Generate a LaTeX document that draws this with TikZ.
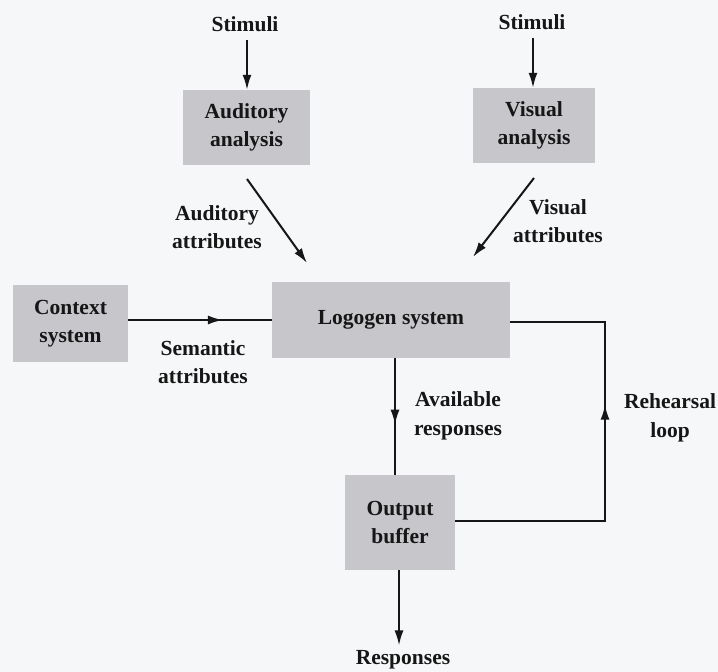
\documentclass[tikz,border=0pt]{standalone}
\usepackage{fontspec}
\setmainfont{Liberation Serif}
\usetikzlibrary{arrows.meta,decorations.markings}

\definecolor{paper}{RGB}{245,247,248}
\definecolor{boxgray}{RGB}{198,198,203}
\definecolor{ink}{RGB}{22,22,22}

\newcommand{\lblfont}{\bfseries\fontsize{21.5}{28.5}\selectfont}

\tikzset{
  tip/.style={-{Latex[length=15pt,width=9pt]}},
  wire/.style={draw=ink, line width=2pt},
  procbox/.style={fill=boxgray, text=ink, align=center, inner sep=0pt, font=\lblfont},
  lbl/.style={text=ink, align=center, inner sep=1pt, font=\lblfont},
  midtip/.style={postaction={decorate}, decoration={markings,
      mark=at position #1 with {\arrow{Latex[length=15pt,width=9pt]}}}},
}

\begin{document}
\begin{tikzpicture}[x=1pt,y=-1pt]
\useasboundingbox (0,0) rectangle (718,672);
\fill[paper] (0,0) rectangle (718,672);

% inputs
\node[lbl] (stimA) at (245,24) {Stimuli};
\node[lbl] (stimV) at (532,22) {Stimuli};

% processing boxes
\node[procbox, minimum width=127pt, minimum height=75pt] (audA) at (246.5,127.5) {Auditory\\analysis};
\node[procbox, minimum width=122pt, minimum height=75pt] (visA) at (534,125.5) {Visual\\analysis};
\node[procbox, minimum width=115pt, minimum height=77pt] (ctx) at (70.5,323.5) {Context\\system};
\node[procbox, minimum width=238pt, minimum height=76pt] (logo) at (391,320) {Logogen system};
\node[procbox, minimum width=110pt, minimum height=95pt] (out) at (400,522.5) {Output\\buffer};

% output
\node[lbl] (resp) at (403,660) {Responses};

% connector labels
\node[lbl] (audAttr) at (217,227) {Auditory\\attributes};
\node[lbl] (visAttr) at (558,221) {Visual\\attributes};
\node[lbl] (semAttr) at (203,362) {Semantic\\attributes};
\node[lbl] (avail) at (458,416) {Available\\responses};
\node[lbl] (rehear) at (670,418) {Rehearsal\\loop};

% free ends of the slanted attribute arrows and loop corners
\coordinate (audFrom) at (247,179);
\coordinate (audTo) at (307,263);
\coordinate (visFrom) at (534,178);
\coordinate (visTo) at (473,257);
\coordinate (stimAFrom) at (247,40);
\coordinate (stimVFrom) at (533,38);
\coordinate (loopBR) at (605,521);
\coordinate (loopTR) at (605,322);

% stimulus arrows
\draw[wire, tip] (stimAFrom) -- (stimAFrom |- audA.north);
\draw[wire, tip] (stimVFrom) -- (stimVFrom |- visA.north);

% attribute arrows into the logogen system
\draw[wire, tip] (audFrom) -- (audTo);
\draw[wire, tip] (visFrom) -- (visTo);

% semantic attributes from the context system
\draw[wire, midtip=0.66] (ctx.east |- logo.west) -- (logo.west);

% logogen system to output buffer
\draw[wire, midtip=0.57] (logo.south -| 395,0) -- (out.north -| 395,0);

% output buffer to responses
\draw[wire, tip] (out.south -| 399,0) -- ([yshift=4pt]resp.north -| 399,0);

% rehearsal loop back to the logogen system
\draw[wire, midtip=0.6] (out.east |- loopBR) -- (loopBR) -- (loopTR) -- (logo.east |- loopTR);
\end{tikzpicture}
\end{document}
